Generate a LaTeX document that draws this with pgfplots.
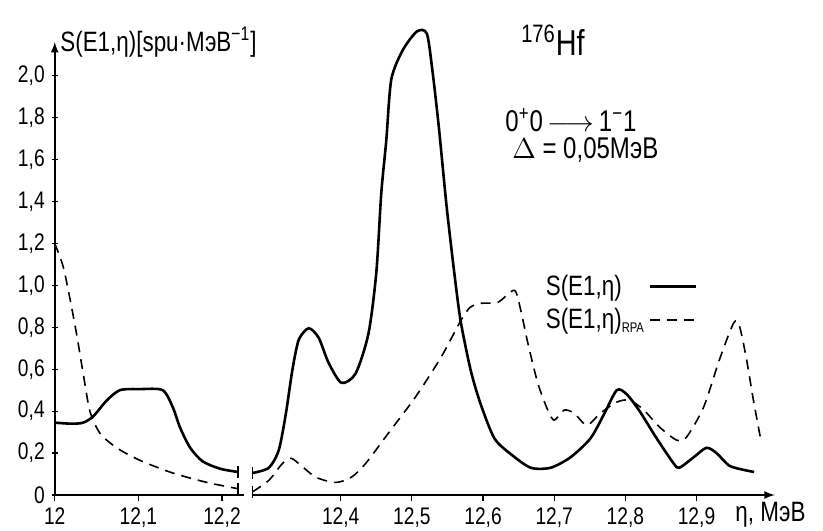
\documentclass[border=0pt]{standalone}
\usepackage{fontspec}
\setmainfont{Liberation Sans}[FakeStretch=0.8]
\usepackage{pgfplots}
\usepackage{pgfplotstable}
\pgfplotsset{compat=1.18}

% left part of the energy axis (12.0 -- 12.22 MeV)
\pgfplotstableread{
x y
12.000 0.345
12.020 0.340
12.034 0.345
12.046 0.375
12.062 0.450
12.078 0.500
12.102 0.505
12.129 0.500
12.141 0.420
12.150 0.320
12.162 0.225
12.177 0.160
12.198 0.125
12.219 0.110
}\leftsolid
\pgfplotstableread{
x y
12.000 1.200
12.010 1.090
12.018 0.940
12.026 0.770
12.034 0.580
12.042 0.400
12.054 0.295
12.074 0.225
12.102 0.165
12.141 0.105
12.182 0.060
12.219 0.030
}\leftrpa
% right part (12.28 -- 13.0 MeV)
\pgfplotstableread{
x y
12.276 0.105
12.299 0.130
12.313 0.215
12.323 0.390
12.332 0.595
12.341 0.740
12.355 0.795
12.369 0.750
12.383 0.630
12.401 0.535
12.421 0.580
12.439 0.770
12.450 1.060
12.457 1.440
12.464 1.690
12.471 1.980
12.487 2.120
12.507 2.210
12.521 2.200
12.529 2.020
12.538 1.750
12.549 1.370
12.561 1.020
12.569 0.820
12.583 0.590
12.597 0.430
12.616 0.270
12.639 0.195
12.667 0.130
12.695 0.130
12.723 0.180
12.751 0.270
12.770 0.385
12.788 0.500
12.802 0.480
12.820 0.400
12.844 0.270
12.868 0.150
12.876 0.130
12.896 0.180
12.914 0.225
12.928 0.200
12.946 0.140
12.966 0.120
12.981 0.110
}\rightsolid
\pgfplotstableread{
x y
12.276 0.015
12.299 0.070
12.318 0.150
12.330 0.175
12.341 0.150
12.365 0.085
12.393 0.060
12.415 0.085
12.435 0.150
12.467 0.295
12.505 0.467
12.541 0.657
12.569 0.833
12.582 0.895
12.597 0.914
12.621 0.919
12.644 0.976
12.653 0.881
12.663 0.724
12.677 0.533
12.691 0.405
12.700 0.357
12.714 0.405
12.728 0.390
12.746 0.333
12.765 0.390
12.788 0.443
12.806 0.452
12.826 0.405
12.848 0.324
12.872 0.262
12.886 0.276
12.910 0.419
12.932 0.643
12.952 0.819
12.960 0.810
12.970 0.652
12.980 0.452
12.991 0.252
}\rightrpa

\pgfplotsset{
  brk/.style={
    scale only axis, clip=false,
    ymin=0, ymax=2.16, height=226.5pt,
    axis x line=bottom,
    tick align=outside, major tick length=3pt,
    tick style={black, line width=0.6pt},
    axis line style={line width=0.8pt},
    tick label style={font=\fontsize{12}{13}\selectfont},
  },
  solidc/.style={black, line width=1.3pt, smooth, tension=0.45},
  rpac/.style={black, line width=0.8pt, dash pattern=on 5pt off 3.5pt, smooth, tension=0.45},
}

\begin{document}
\begin{tikzpicture}
\path[use as bounding box] (-27.5pt,-17.5pt) rectangle (384pt,247.5pt);

\begin{axis}[brk,
  at={(0pt,0pt)}, anchor=south west,
  width=94.5pt,
  xmin=12, xmax=12.226,
  axis y line=left,
  x axis line style={-},
  y axis line style={-latex},
  xtick={12,12.1,12.2},
  xticklabels={12,{12,1},{12,2}},
  ytick={0,0.2,0.4,0.6,0.8,1.0,1.2,1.4,1.6,1.8,2.0},
  yticklabels={0,{0,2},{0,4},{0,6},{0,8},{1,0},{1,2},{1,4},{1,6},{1,8},{2,0}},
]
\addplot[solidc, mark=|, mark indices={14}, mark options={solid, line width=0.8pt, mark size=3pt}] table {\leftsolid};
\addplot[rpac, mark=|, mark indices={12}, mark options={solid, line width=0.8pt, mark size=3pt}] table {\leftrpa};
\draw[line width=0.8pt] (rel axis cs:1,0) ++(0,-3pt) -- ++(0,6pt);
\end{axis}

\begin{axis}[brk,
  at={(98.5pt,0pt)}, anchor=south west,
  width=261.5pt,
  xmin=12.275, xmax=13.01,
  axis y line=none, ytick=\empty,
  x axis line style={-latex},
  xtick={12.4,12.5,12.6,12.7,12.8,12.9},
  xticklabels={{12,4},{12,5},{12,6},{12,7},{12,8},{12,9}},
  legend plot pos=right,
  legend cell align=left,
  legend style={at={(0.55,0.50)}, anchor=north west, draw=none, fill=none,
    font=\fontsize{14}{14}\selectfont, row sep=1pt, inner sep=1pt},
  legend image code/.code={\draw[#1] (0cm,0cm) -- (0.8cm,0cm);},
]
\addplot[solidc, mark=|, mark indices={1}, mark options={solid, line width=0.8pt, mark size=3pt}] table {\rightsolid};
\addlegendentry{S(E1,η)}
\addplot[rpac, mark=|, mark indices={1}, mark options={solid, line width=0.8pt, mark size=3pt}] table {\rightrpa};
\addlegendentry{S(E1,η)\textsubscript{\fontsize{7}{7}\selectfont RPA}}
\draw[line width=0.8pt] (rel axis cs:0,0) ++(0,-3pt) -- ++(0,6pt);
\end{axis}

\node[anchor=west, inner sep=0pt, font=\fontsize{14}{14}\selectfont] at (2.5pt,226.5pt) {S(E1,η)[spu·МэВ\textsuperscript{−1}]};
\node[inner sep=0pt, font=\fontsize{18}{18}\selectfont] at (249pt,227.5pt) {\textsuperscript{176}Hf};
\node[anchor=west, inner sep=0pt, font=\fontsize{15}{15}\selectfont] at (225pt,187.5pt) {0\textsuperscript{+}0$\,\longrightarrow\,$1\textsuperscript{−}1};
\node[anchor=west, inner sep=0pt, font=\fontsize{15}{15}\selectfont] at (228.5pt,172.5pt) {$\Delta$ = 0,05МэВ};
\node[anchor=west, inner sep=0pt, font=\fontsize{14}{14}\selectfont] at (340pt,-10pt) {η, МэВ};
\end{tikzpicture}
\end{document}
